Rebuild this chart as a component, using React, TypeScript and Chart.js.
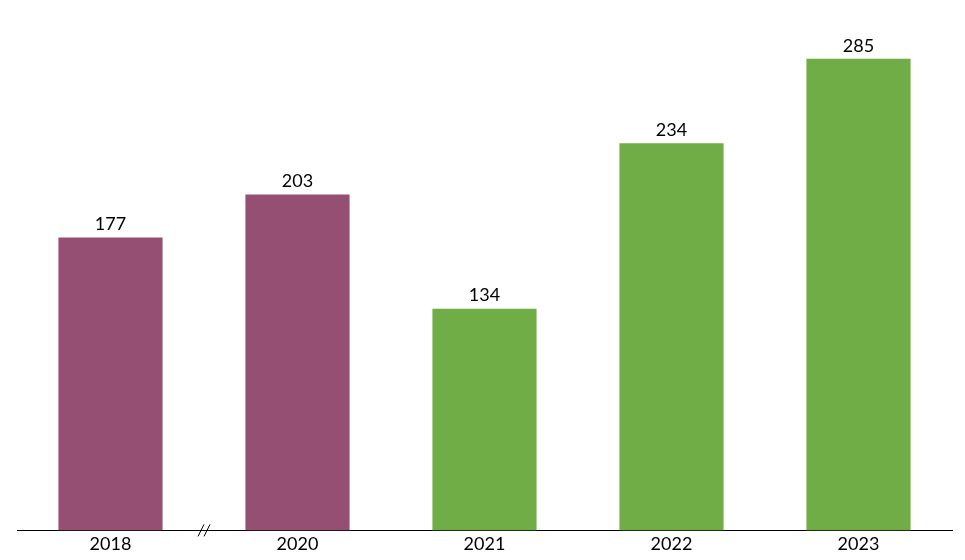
import React, { useEffect, useRef } from "react";
import { Chart, registerables } from "chart.js";

Chart.register(...registerables);

const categories = ["2018", "2020", "2021", "2022", "2023"];
const values = [177, 203, 134, 234, 285];
const barColors = ["#954F72", "#954F72", "#70AD47", "#70AD47", "#70AD47"];
const FONT = "Lato, 'Open Sans', sans-serif";

const valueLabels = {
  id: "valueLabels",
  afterDatasetsDraw(chart: any) {
    const ctx = chart.ctx;
    const meta = chart.getDatasetMeta(0);
    ctx.save();
    ctx.fillStyle = "#000";
    ctx.font = `18px ${FONT}`;
    ctx.textAlign = "center";
    ctx.textBaseline = "bottom";
    meta.data.forEach((bar: any, i: number) => {
      ctx.fillText(String(values[i]), bar.x, bar.y - 4);
    });
    ctx.restore();
  },
};

const breakMark = {
  id: "breakMark",
  afterDraw(chart: any) {
    const x = chart.scales.x;
    const cx = (x.getPixelForValue(0) + x.getPixelForValue(1)) / 2;
    const y = chart.chartArea.bottom;
    const ctx = chart.ctx;
    ctx.save();
    ctx.strokeStyle = "#000";
    ctx.lineWidth = 1;
    [-3, 3].forEach((dx) => {
      ctx.beginPath();
      ctx.moveTo(cx + dx - 3, y + 6);
      ctx.lineTo(cx + dx + 3, y - 6);
      ctx.stroke();
    });
    ctx.restore();
  },
};

export default function App() {
  const ref = useRef<HTMLCanvasElement>(null);
  useEffect(() => {
    if (!ref.current) return;
    const chart = new Chart(ref.current, {
      type: "bar",
      data: {
        labels: categories,
        datasets: [
          {
            data: values,
            backgroundColor: barColors,
            categoryPercentage: 1,
            barPercentage: 0.557,
          },
        ],
      },
      options: {
        animation: false,
        responsive: false,
        maintainAspectRatio: false,
        layout: { padding: { left: 17, right: 13, top: 34, bottom: 2 } },
        plugins: { legend: { display: false }, tooltip: { enabled: false } },
        scales: {
          x: {
            grid: { display: false, drawTicks: false },
            border: { display: true, color: "#000", width: 1 },
            ticks: { color: "#000", font: { family: FONT, size: 18 }, padding: 3 },
          },
          y: { display: false, min: 0, max: 300 },
        },
      },
      plugins: [valueLabels, breakMark],
    });
    return () => chart.destroy();
  }, []);
  return (
    <div style={{ position: "fixed", left: 0, top: 0, width: 965, height: 560, background: "#fff" }}>
      <canvas ref={ref} width={965} height={560} style={{ width: 965, height: 560 }} />
    </div>
  );
}
